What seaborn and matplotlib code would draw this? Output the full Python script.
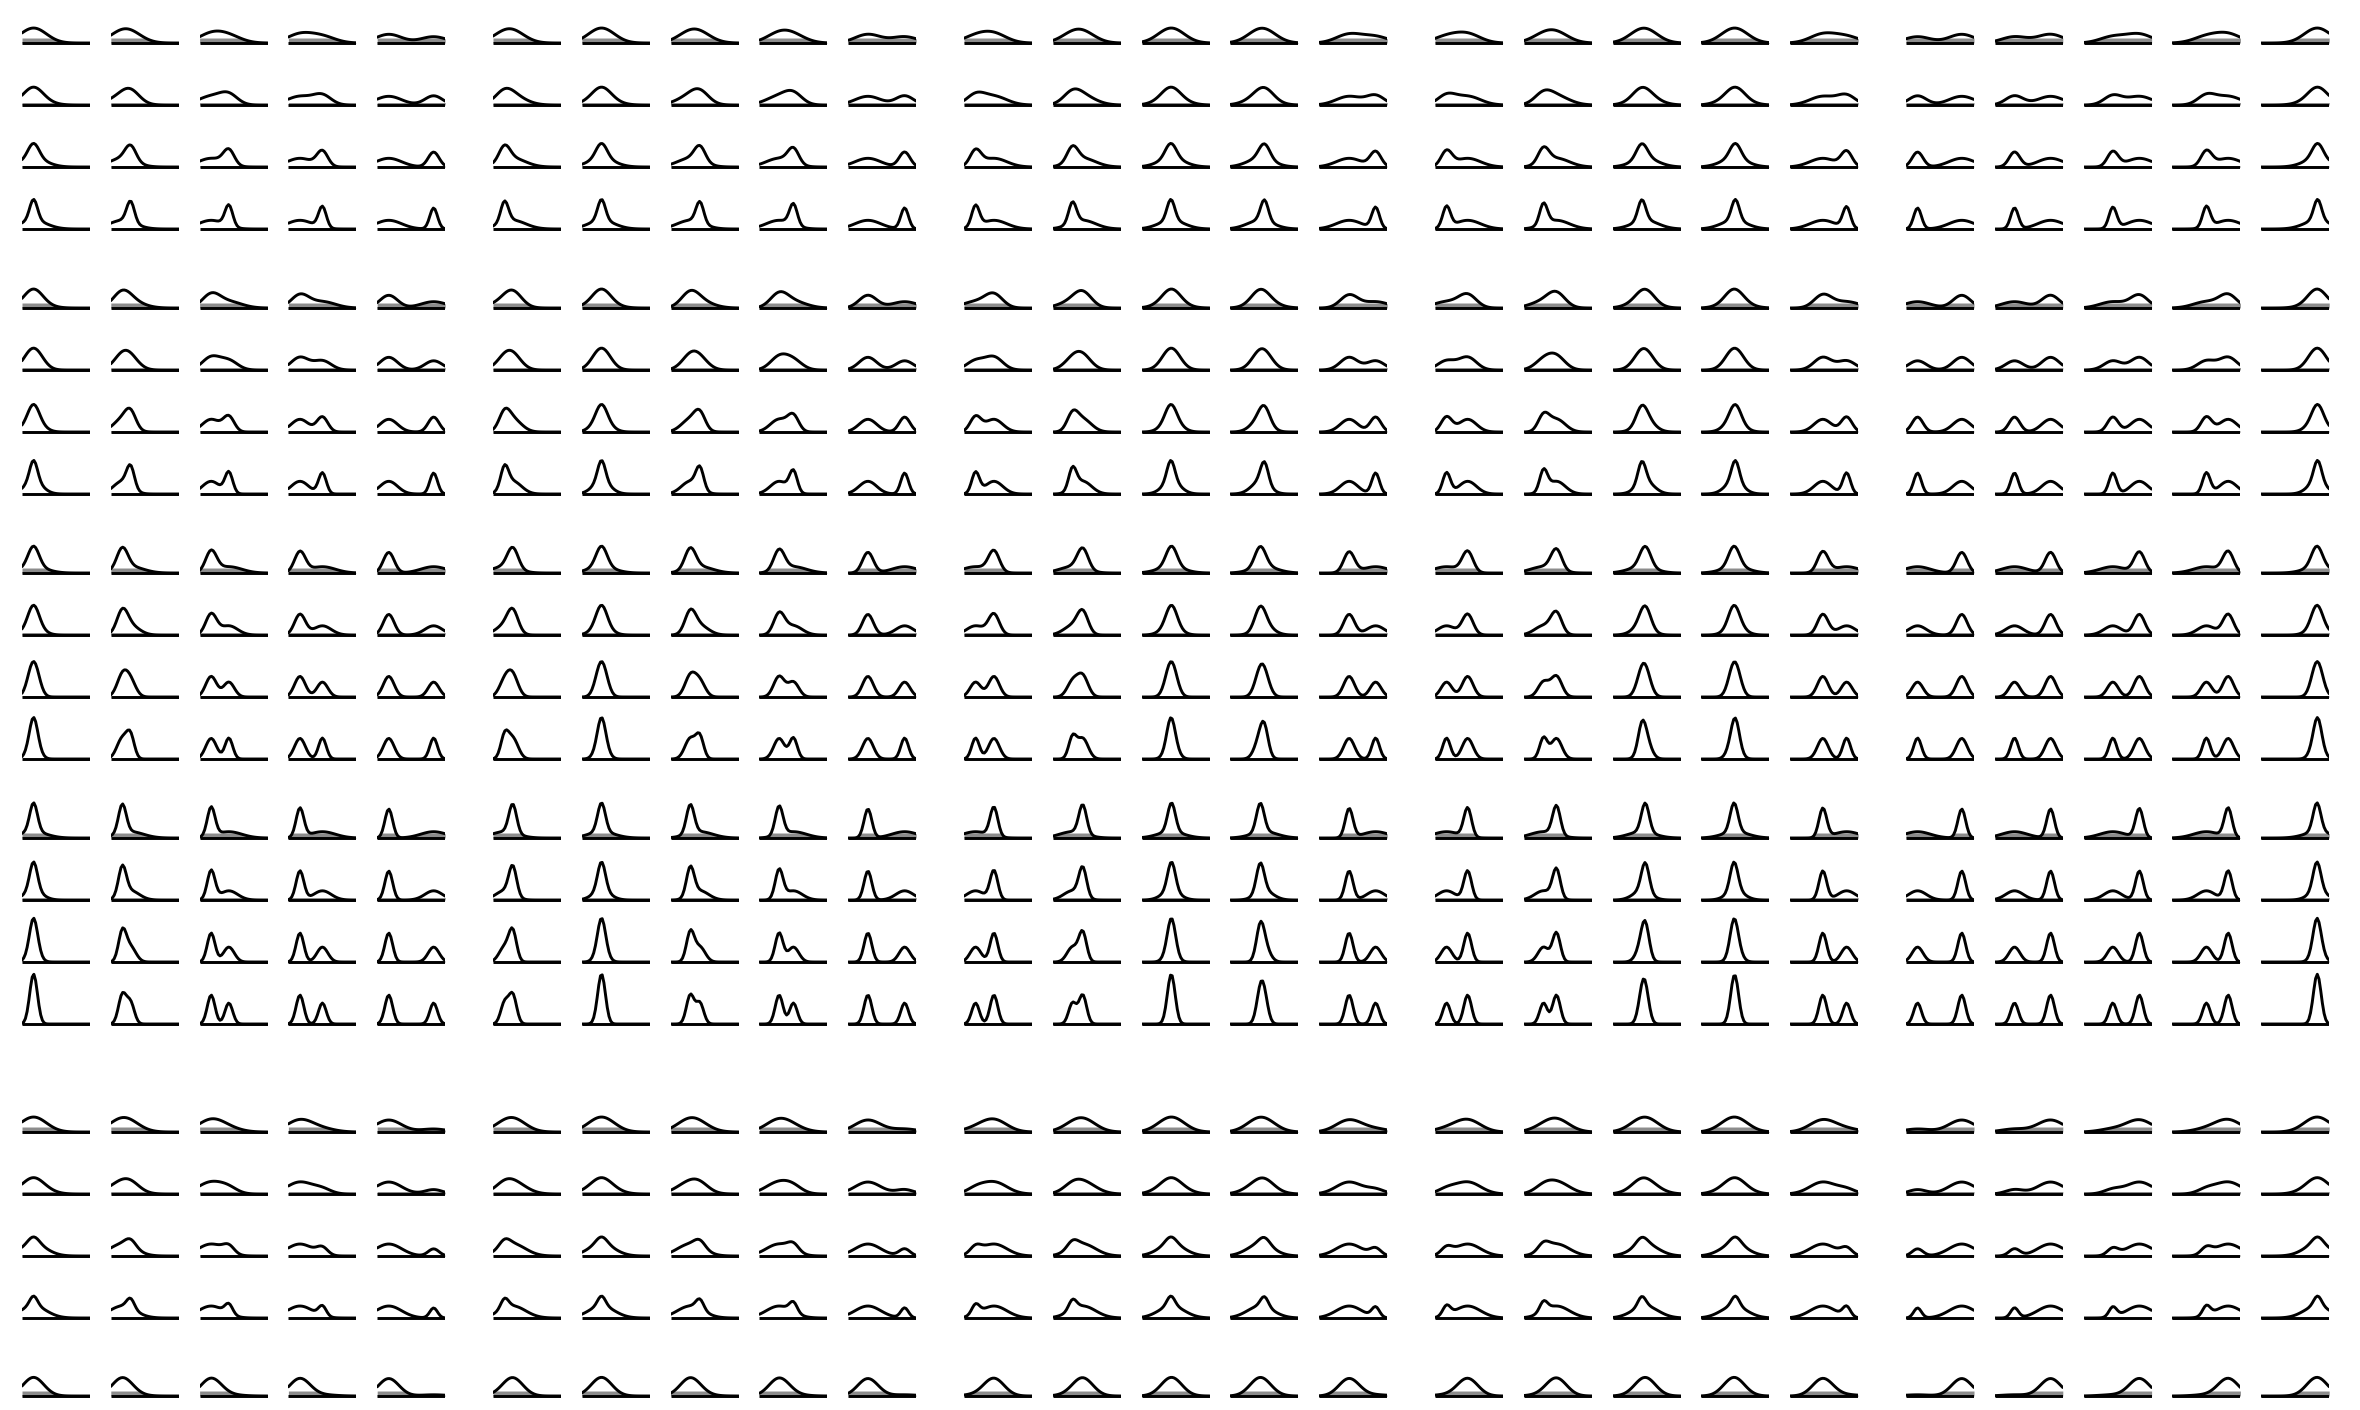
import numpy as np
import pandas as pd
import seaborn as sns
from matplotlib import pyplot as plt

sns.set_theme(style="white")

# where the two bumps sit inside a cell (x runs 0..1)
group_loc = [0.17, 0.29, 0.44, 0.48, 0.82]   # main bump, one per column group
col_loc = [0.17, 0.29, 0.43, 0.50, 0.83]     # second bump, one per column in a group

# bump widths (sd), broad -> sharp
group_sd = [0.19, 0.13, 0.08, 0.057]         # main bump, one per row group
row_sd = [0.19, 0.13, 0.08, 0.057]           # second bump, one per row in a group

# bump weights (main, second)
top_w = [0.58, 0.42]
low_w = [0.80, 0.20]
last_w = [0.92, 0.08]
last_sd = [0.15, 0.19]

# height of the grey band under the curve, per row in a group
band = [0.7, 0.35, 0.14, 0.0]

x = np.linspace(0, 1, 41)


def bump(loc, sd):
    return np.exp(-0.5 * ((x - loc) / sd) ** 2) / (sd * np.sqrt(2 * np.pi))


# rows: (baseline px, weights, sd main, sd second, band)
rows = []
for rg in range(4):
    for r in range(4):
        rows.append((43 + rg * 265 + r * 62, top_w, group_sd[rg], row_sd[r], band[r]))
for r in range(4):
    rows.append((1132 + r * 62, low_w, group_sd[0], row_sd[r], band[r]))
rows.append((1396, last_w, last_sd[0], last_sd[1], band[0]))

W, H = 2360, 1410
px_unit = 7.13      # pixels per density unit
y0, y1 = -0.3, 8.0
cell_w = 68

fig = plt.figure(figsize=(W / 100, H / 100), dpi=100)

for base, w, sd_a, sd_b, bnd in rows:
    for g in range(5):
        for c in range(5):
            left = 22 + g * 471 + c * 88.8
            bottom = base - y0 * px_unit
            ax = fig.add_axes([left / W, 1 - bottom / H, cell_w / W, (y1 - y0) * px_unit / H])
            y = w[0] * bump(group_loc[g], sd_a) + w[1] * bump(col_loc[c], sd_b)
            df = pd.DataFrame({'x': x, 'y': y})
            if bnd > 0:
                ax.fill_between(x, 0, np.minimum(y, bnd), color='0.55', lw=0)
            ax.plot([0, 1], [0, 0], color='black', lw=2.1, solid_capstyle='butt')
            sns.lineplot(data=df, x='x', y='y', ax=ax, color='black', lw=2.1)
            ax.set_xlim(0, 1)
            ax.set_ylim(y0, y1)
            ax.set_axis_off()

fig.savefig('out.png', dpi=100)
